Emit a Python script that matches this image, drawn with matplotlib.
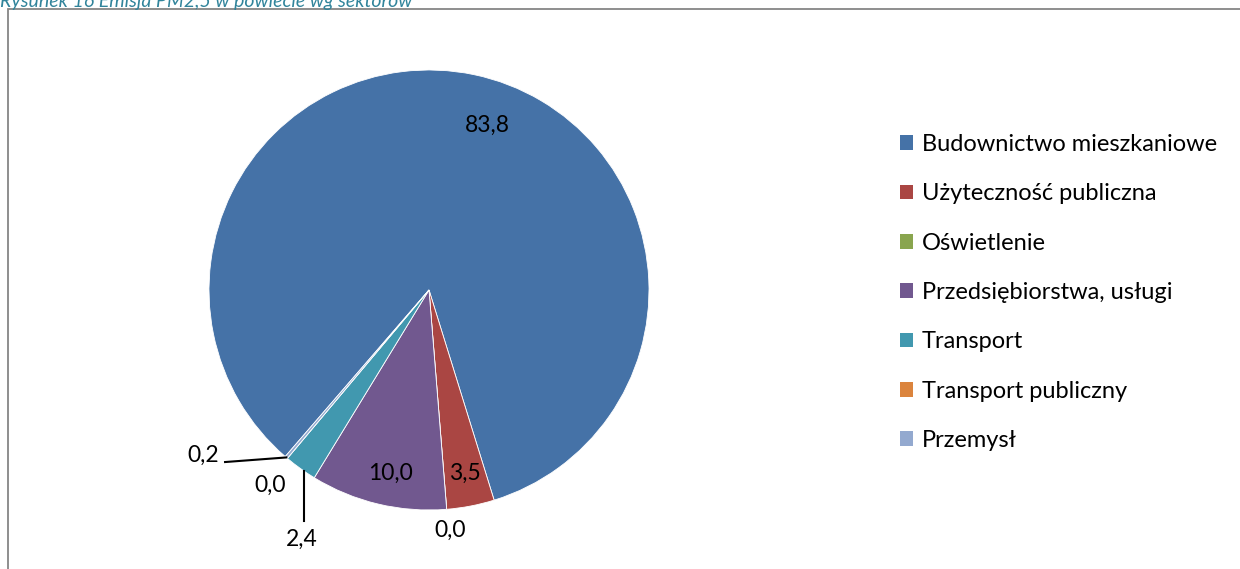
import numpy as np
import matplotlib
matplotlib.use('Agg')
import matplotlib.pyplot as plt
from matplotlib.patches import Rectangle

# Chart data
sectors = ['Budownictwo mieszkaniowe', 'Użyteczność publiczna', 'Oświetlenie',
           'Przedsiębiorstwa, usługi', 'Transport', 'Transport publiczny', 'Przemysł']
values = [83.8, 3.5, 0.0, 10.0, 2.4, 0.0, 0.2]
value_labels = ['83,8', '3,5', '0,0', '10,0', '2,4', '0,0', '0,2']
colors = ['#4572A7', '#AA4643', '#89A54E', '#71588F', '#4198AF', '#DB843D', '#93A9CF']
caption = 'Rysunek 16 Emisja PM2,5 w powiecie wg sektorów'

# Label placement (pie units, radius = 1)
label_pos = [(0.264, 0.75), (0.164, -0.832), (0.095, -1.091), (-0.177, -0.832),
             (-0.577, -1.132), (-0.723, -0.886), (-1.027, -0.75)]

W, H = 1240, 569
plt.rcParams['font.family'] = ['Lato', 'DejaVu Sans']

fig = plt.figure(figsize=(W / 100, H / 100), dpi=100)

# frame around chart area
fig.patches.append(Rectangle((8 / W, -0.05), 1.1, 1 - 9 / H + 0.05, transform=fig.transFigure,
                             fill=False, edgecolor='#868686', linewidth=1.3))
fig.text(0, 1 - 7 / H, caption, color='#31849B', fontsize=14, style='italic',
         ha='left', va='baseline')

cx, cy, r = 429, 569 - 290, 220
ax = fig.add_axes([(cx - r) / W, (cy - r) / H, 2 * r / W, 2 * r / H])
wedges, _ = ax.pie(values, colors=colors, startangle=229.2, counterclock=False,
                   radius=1, wedgeprops=dict(edgecolor='white', linewidth=0.6))
ax.set_xlim(-1, 1)
ax.set_ylim(-1, 1)
ax.axis('off')

for lbl, (x, y) in zip(value_labels, label_pos):
    ax.text(x, y, lbl, ha='center', va='center', fontsize=16.5, color='black', clip_on=False)

# leader line for Transport (vertical, from pie edge down towards label)
lx = label_pos[4][0] + 0.009
ax.plot([lx, lx], [-np.sqrt(1 - lx ** 2), label_pos[4][1] + 0.082], color='black', lw=1.5,
        clip_on=False)
# leader line for Przemysł (from wedge middle to label)
w = wedges[6]
mid = np.deg2rad((w.theta1 + w.theta2) / 2)
ax.plot([np.cos(mid), label_pos[6][0] + 0.1], [np.sin(mid), label_pos[6][1] - 0.032],
        color='black', lw=1.5, clip_on=False)

# legend
handles = [Rectangle((0, 0), 1, 1, facecolor=c) for c in colors]
fig.legend(handles, sectors, loc='upper left', bbox_to_anchor=(900 / W, 1 - 134 / H),
           frameon=False, fontsize=17, handlelength=0.56, handleheight=0.56,
           handletextpad=0.36, labelspacing=1.2, borderaxespad=0, borderpad=0)

fig.savefig('out.png', dpi=100)
